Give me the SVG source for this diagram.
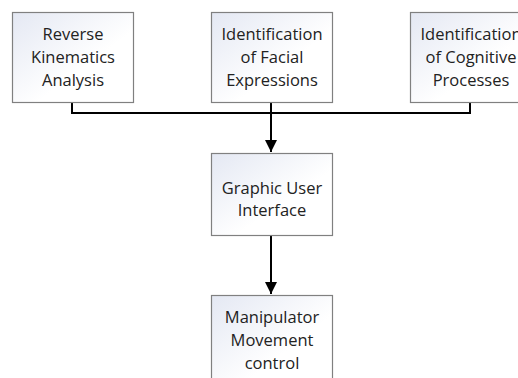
<svg xmlns="http://www.w3.org/2000/svg" width="518" height="378" viewBox="0 0 518 378">
<defs>
<linearGradient id="g" x1="0" y1="0" x2="1" y2="1">
<stop offset="0" stop-color="#e4e8f3"/>
<stop offset="0.6" stop-color="#ffffff"/>
</linearGradient>
<marker id="ah" viewBox="0 0 10 10" refX="10" refY="5" markerWidth="6" markerHeight="6" orient="auto" markerUnits="strokeWidth">
<path d="M0,0 L10,5 L0,10 z" fill="#000"/>
</marker>
<style>
.box{fill:url(#g);stroke:#808080;stroke-width:1.2}
.t{font-family:"Open Sans","Noto Sans",sans-serif;font-size:16.5px;fill:#222;text-anchor:middle}
.c{fill:none;stroke:#000;stroke-width:2}
</style>
</defs>
<rect width="518" height="378" fill="#fff"/>
<g id="connectors">
<polyline class="c" points="72,102 72,113 470,113 470,102"/>
<line class="c" x1="271" y1="102" x2="271" y2="152" marker-end="url(#ah)"/>
<line class="c" x1="271" y1="235" x2="271" y2="294" marker-end="url(#ah)"/>
</g>
<g id="n1">
<rect class="box" x="12.5" y="12.5" width="121" height="90"/>
<text class="t" x="73" y="40">Reverse</text>
<text class="t" x="73" y="63">Kinematics</text>
<text class="t" x="73" y="86">Analysis</text>
</g>
<g id="n2">
<rect class="box" x="211.5" y="12.5" width="121" height="90"/>
<text class="t" x="272" y="40">Identification</text>
<text class="t" x="272" y="63">of Facial</text>
<text class="t" x="272" y="86">Expressions</text>
</g>
<g id="n3">
<rect class="box" x="410.5" y="12.5" width="121" height="90"/>
<text class="t" x="471" y="40">Identification</text>
<text class="t" x="471" y="63">of Cognitive</text>
<text class="t" x="471" y="86">Processes</text>
</g>
<g id="n4">
<rect class="box" x="211.5" y="153.5" width="121" height="82"/>
<text class="t" x="272" y="194">Graphic User</text>
<text class="t" x="272" y="216">Interface</text>
</g>
<g id="n5">
<rect class="box" x="211.5" y="295.5" width="121" height="95"/>
<text class="t" x="272" y="323">Manipulator</text>
<text class="t" x="272" y="346">Movement</text>
<text class="t" x="272" y="369">control</text>
</g>
</svg>
